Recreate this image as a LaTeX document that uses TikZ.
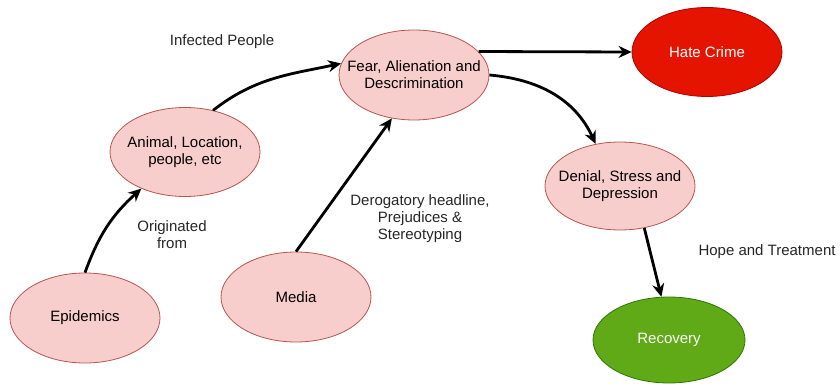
\documentclass[tikz,border=0pt]{standalone}
\usepackage{fontspec}
\setmainfont{Liberation Sans}
\usetikzlibrary{shapes.geometric, arrows.meta, positioning}
\definecolor{softpink}{RGB}{248,206,204}
\definecolor{pinkline}{RGB}{184,84,80}
\definecolor{crimered}{RGB}{229,20,0}
\definecolor{crimeline}{RGB}{178,0,0}
\definecolor{hopegreen}{RGB}{96,169,23}
\definecolor{greenline}{RGB}{45,118,0}

\begin{document}
\begin{tikzpicture}[
        x=1pt, y=1pt,
        font=\fontsize{15}{17}\selectfont,
        stage/.style={ellipse, draw=pinkline, fill=softpink, line width=0.8pt, minimum width=150pt, minimum height=90pt, inner xsep=-22pt, inner ysep=0pt, align=center},
        lbl/.style={inner sep=0pt, align=center, text=black!85},
        flow/.style={line width=2.8pt, -{Stealth[length=13pt, width=12pt]}}
    ]
        \useasboundingbox (0,0) rectangle (840,383);

        \node[stage] (epidemics) at (85,65) {Epidemics};
        \node[stage] (media) at (296,86) {Media};
        \node[stage, minimum height=89pt] (animal) at (185,231) {Animal, Location,\\people, etc};
        \node[stage] (fear) at (414,308) {Fear, Alienation and\\Descrimination};
        \node[stage, fill=crimered, draw=crimeline, text=white, minimum height=89pt] (hate) at (707,331) {Hate Crime};
        \node[stage, minimum height=88pt] (denial) at (620,197) {Denial, Stress and\\Depression};
        \node[stage, fill=hopegreen, draw=greenline, text=white, minimum width=152pt, minimum height=86pt] (recovery) at (669,43) {Recovery};

        \node[lbl] (infected) at (222,341) {Infected People};
        \node[lbl] (origin) at (172,148) {Originated\\from};
        \node[lbl] (derog) at (420,164) {Derogatory headline,\\Prejudices \&\\Stereotyping};
        \node[lbl] (hope) at (767,131) {Hope and Treatment};

        \draw[flow] (epidemics.north) to[out=70, in=222] (animal.220);
        \draw[flow] (animal.56) to[out=38, in=192] (fear.171);
        \draw[flow] (media.north) -- (fear.243);
        \draw[flow] (fear.20) -- (hate.west);
        \draw[flow] (fear.east) to[out=-5, in=115] (denial.120);
        \draw[flow] (denial.300) -- (recovery.100);
    \end{tikzpicture}
\end{document}
